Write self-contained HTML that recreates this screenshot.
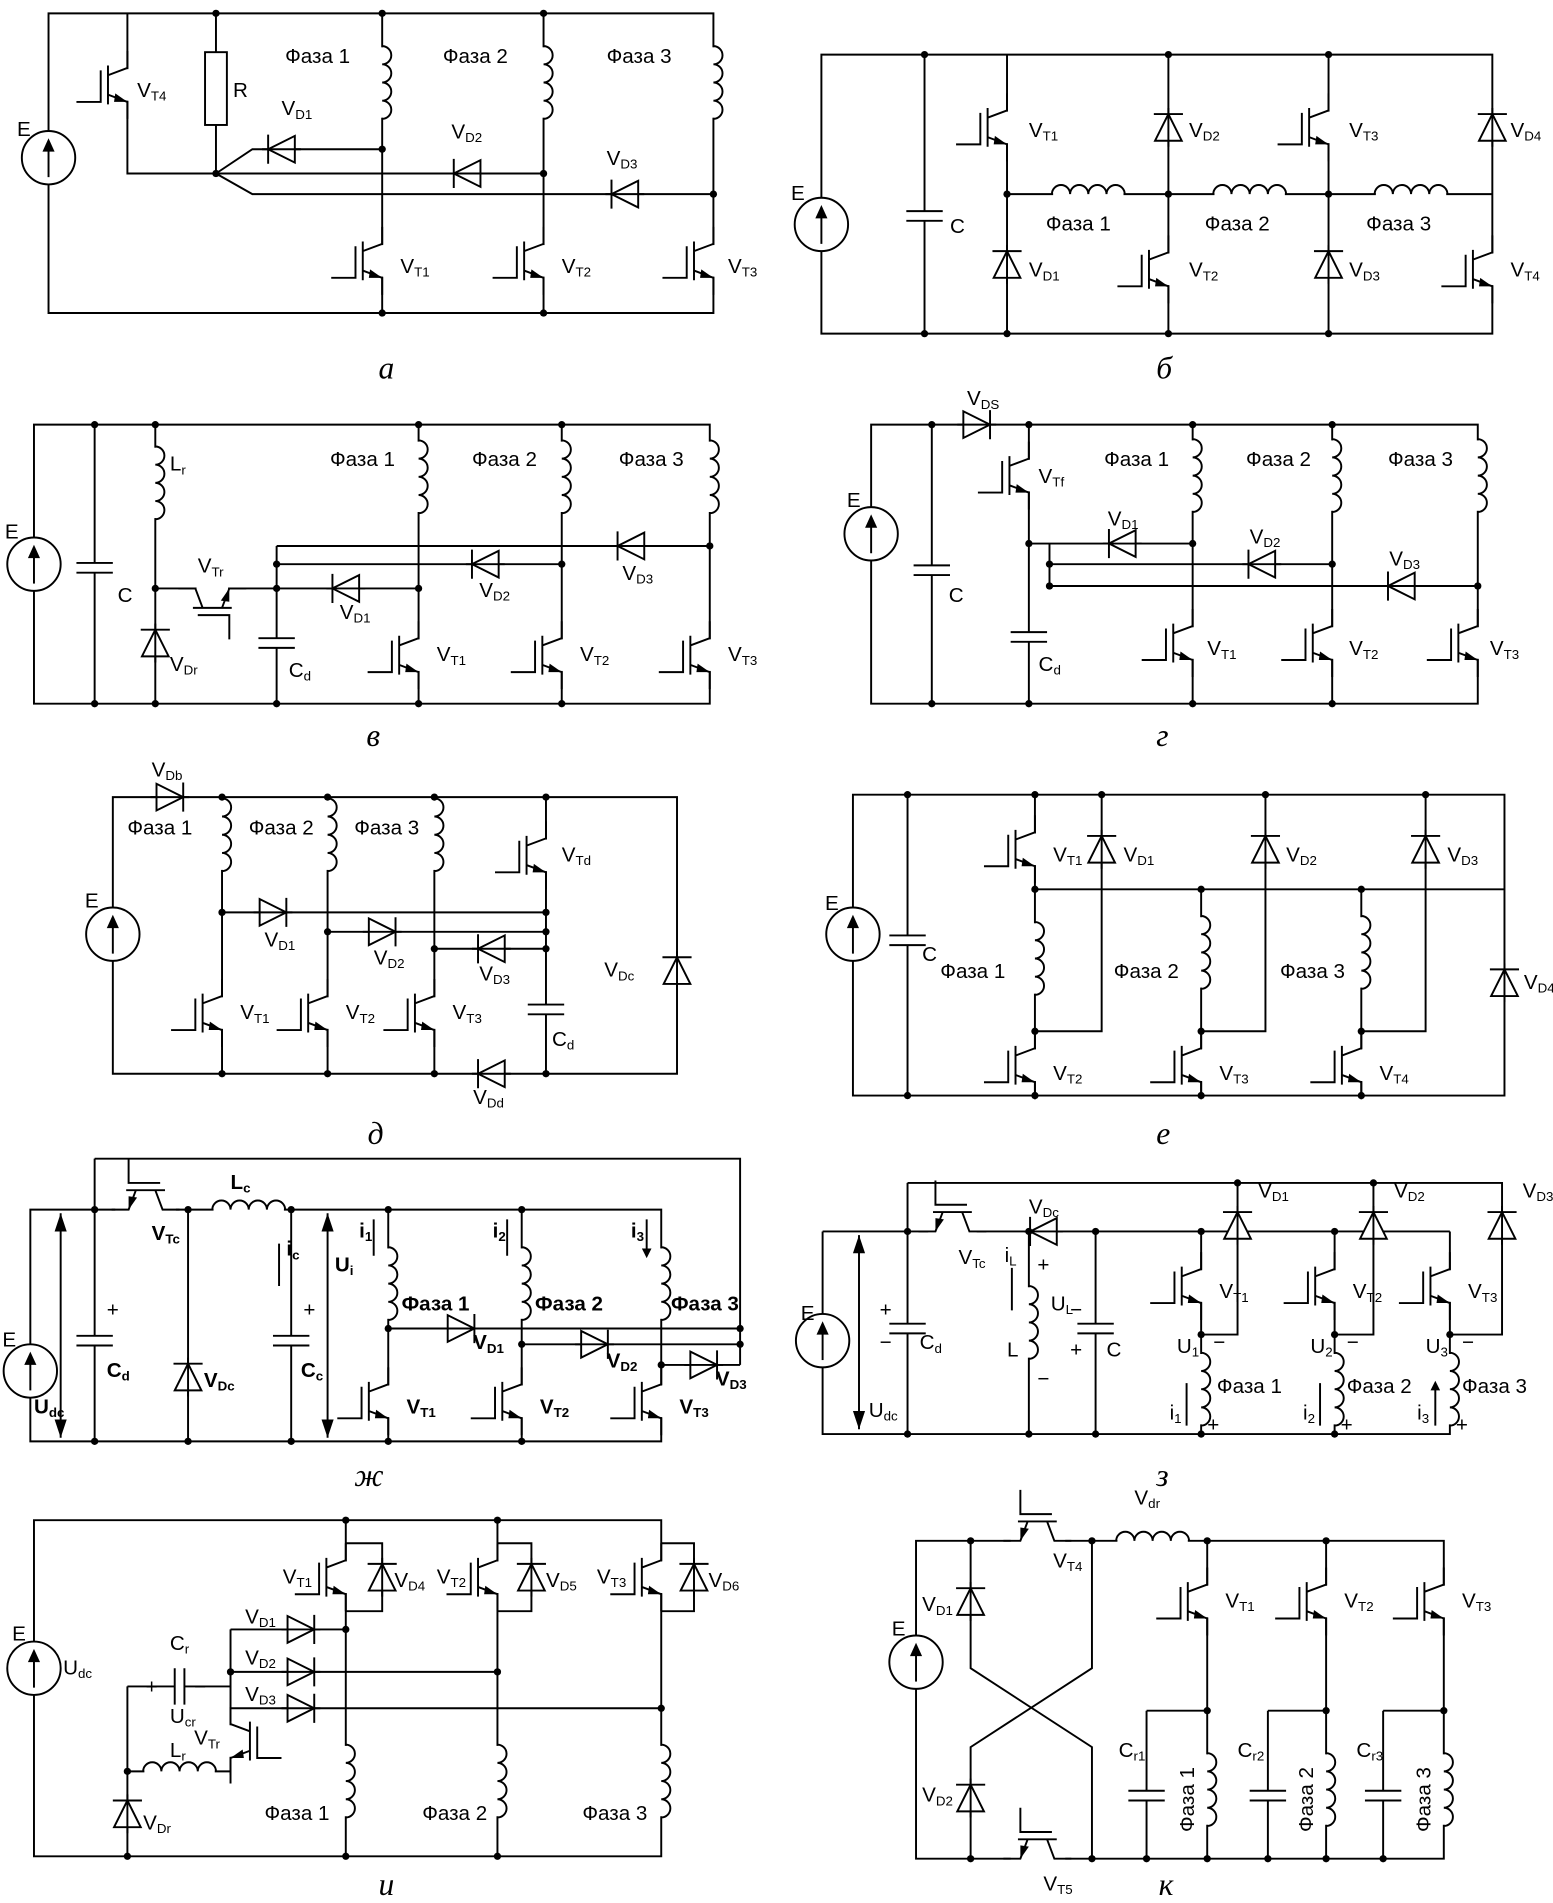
<!DOCTYPE html>
<html><head><meta charset="utf-8"><style>
html,body{margin:0;padding:0;background:#fff}
svg{display:block}
.w{fill:none;stroke:#000;stroke-width:1.6}
text{font-family:"Liberation Sans","DejaVu Sans",sans-serif;font-size:17px;fill:#000}
.s{font-size:11px}
.cap{font-family:"Liberation Serif",serif;font-style:italic;font-size:26px}
</style></head><body>
<svg width="1553" height="1903" viewBox="0 0 1280 1568.5" preserveAspectRatio="none" xmlns="http://www.w3.org/2000/svg">
<defs>
<g id="q"><rect x="-3" y="-13" width="6" height="26" fill="#fff"/><path class="w" d="M0,-28 V-14 L-16,-8 M-16,-16 V16 M-22,-12 V14 H-42 M-16,8 L0,14 V28"/><polygon points="0,14 -10,7 -11,14" fill="#000"/></g>
<g id="d"><polygon points="-11,-11 -11,11 11,0" fill="#fff" stroke="#000" stroke-width="1.6"/><path class="w" d="M-16,0 H16 M11,-12 V12"/></g>
<g id="L"><rect x="-2" y="-29" width="4" height="58" fill="#fff"/><path class="w" d="M0,-30 a7.5,7.5 0 0 1 0,15 a7.5,7.5 0 0 1 0,15 a7.5,7.5 0 0 1 0,15 a7.5,7.5 0 0 1 0,15"/></g>
<g id="c"><rect x="-16" y="-4" width="32" height="8" fill="#fff"/><path class="w" d="M-15,-4 H15 M-15,4 H15"/></g>
<g id="e"><circle cx="0" cy="0" r="22" fill="#fff" stroke="#000" stroke-width="1.6"/><path class="w" d="M0,16 V-8"/><polygon points="0,-16 -5,-5 5,-5" fill="#000"/></g>
<marker id="ah" markerWidth="8" markerHeight="8" refX="6" refY="4" orient="auto" markerUnits="userSpaceOnUse"><path d="M0,0 L8,4 L0,8 Z" fill="#000"/></marker>
</defs>

<!-- ===== а ===== -->
<path class="w" d="M40,11 H588 V258 H40 Z M105,11 V143 H178 M178,11 V143 M315,11 V258 M448,11 V258 M315,123 H208 L178,143 M448,143 H178 M588,160 H208 L178,143"/>
<rect x="169" y="43" width="18" height="60" fill="#fff" stroke="#000" stroke-width="1.6"/>
<use href="#e" x="40" y="130"/>
<use href="#q" x="105" y="70"/>
<use href="#L" x="315" y="68"/><use href="#L" x="448" y="68"/><use href="#L" x="588" y="68"/>
<use href="#d" transform="translate(232,123) rotate(180)"/><use href="#d" transform="translate(385,143) rotate(180)"/><use href="#d" transform="translate(515,160) rotate(180)"/>
<use href="#q" x="315" y="215"/><use href="#q" x="448" y="215"/><use href="#q" x="588" y="215"/>
<g><circle cx="178" cy="11" r="3"/><circle cx="315" cy="11" r="3"/><circle cx="448" cy="11" r="3"/><circle cx="178" cy="143" r="3"/><circle cx="315" cy="123" r="3"/><circle cx="448" cy="143" r="3"/><circle cx="588" cy="160" r="3"/><circle cx="315" cy="258" r="3"/><circle cx="448" cy="258" r="3"/></g>
<text x="14" y="112">E</text><text x="192" y="80">R</text>
<text x="113" y="80">V<tspan class="s" dy="3">T4</tspan></text>
<text x="232" y="95">V<tspan class="s" dy="3">D1</tspan></text>
<text x="372" y="114">V<tspan class="s" dy="3">D2</tspan></text>
<text x="500" y="136">V<tspan class="s" dy="3">D3</tspan></text>
<text x="235" y="52">Фаза 1</text><text x="365" y="52">Фаза 2</text><text x="500" y="52">Фаза 3</text>
<text x="330" y="225">V<tspan class="s" dy="3">T1</tspan></text><text x="463" y="225">V<tspan class="s" dy="3">T2</tspan></text><text x="600" y="225">V<tspan class="s" dy="3">T3</tspan></text>
<text class="cap" x="312" y="312">а</text>

<!-- ===== б ===== -->
<path class="w" d="M677,45 H1230 V275 H677 Z M762,45 V275 M830,45 V275 M963,45 V275 M1095,45 V275 M830,160 H1230"/>
<use href="#e" x="677" y="185"/><use href="#c" x="762" y="178"/>
<use href="#q" x="830" y="105"/><use href="#d" transform="translate(830,218) rotate(-90)"/>
<use href="#d" transform="translate(963,105) rotate(-90)"/><use href="#q" x="963" y="222"/>
<use href="#q" x="1095" y="105"/><use href="#d" transform="translate(1095,218) rotate(-90)"/>
<use href="#d" transform="translate(1230,105) rotate(-90)"/><use href="#q" x="1230" y="222"/>
<use href="#L" transform="translate(897,160) rotate(-90)"/><use href="#L" transform="translate(1030,160) rotate(-90)"/><use href="#L" transform="translate(1163,160) rotate(-90)"/>
<g><circle cx="762" cy="45" r="3"/><circle cx="762" cy="275" r="3"/><circle cx="830" cy="160" r="3"/><circle cx="830" cy="275" r="3"/><circle cx="963" cy="45" r="3"/><circle cx="963" cy="160" r="3"/><circle cx="963" cy="275" r="3"/><circle cx="1095" cy="45" r="3"/><circle cx="1095" cy="160" r="3"/><circle cx="1095" cy="275" r="3"/></g>
<text x="652" y="165">E</text><text x="783" y="192">C</text>
<text x="848" y="113">V<tspan class="s" dy="3">T1</tspan></text><text x="980" y="113">V<tspan class="s" dy="3">D2</tspan></text>
<text x="1112" y="113">V<tspan class="s" dy="3">T3</tspan></text><text x="1245" y="113">V<tspan class="s" dy="3">D4</tspan></text>
<text x="848" y="228">V<tspan class="s" dy="3">D1</tspan></text><text x="980" y="228">V<tspan class="s" dy="3">T2</tspan></text>
<text x="1112" y="228">V<tspan class="s" dy="3">D3</tspan></text><text x="1245" y="228">V<tspan class="s" dy="3">T4</tspan></text>
<text x="862" y="190">Фаза 1</text><text x="993" y="190">Фаза 2</text><text x="1126" y="190">Фаза 3</text>
<text class="cap" x="953" y="312">б</text>

<!-- ===== в ===== -->
<path class="w" d="M28,350 H585 V580 H28 Z M78,350 V580 M128,350 V580 M128,485 H228 M228,450 V580 M228,450 H585 M228,465 H463 M228,485 H345 M345,350 V580 M463,350 V580"/>
<use href="#e" x="28" y="465"/><use href="#c" x="78" y="468"/>
<use href="#L" x="128" y="398"/><use href="#d" transform="translate(128,530) rotate(-90)"/>
<use href="#q" transform="translate(175,485) rotate(-90)"/>
<use href="#c" x="228" y="530"/>
<use href="#d" transform="translate(520,450) rotate(180)"/><use href="#d" transform="translate(400,465) rotate(180)"/><use href="#d" transform="translate(285,485) rotate(180)"/>
<use href="#L" x="345" y="393"/><use href="#L" x="463" y="393"/><use href="#L" x="585" y="393"/>
<use href="#q" x="345" y="540"/><use href="#q" x="463" y="540"/><use href="#q" x="585" y="540"/>
<g><circle cx="78" cy="350" r="3"/><circle cx="128" cy="350" r="3"/><circle cx="345" cy="350" r="3"/><circle cx="463" cy="350" r="3"/><circle cx="128" cy="485" r="3"/><circle cx="228" cy="485" r="3"/><circle cx="228" cy="465" r="3"/><circle cx="345" cy="485" r="3"/><circle cx="463" cy="465" r="3"/><circle cx="585" cy="450" r="3"/><circle cx="78" cy="580" r="3"/><circle cx="128" cy="580" r="3"/><circle cx="228" cy="580" r="3"/><circle cx="345" cy="580" r="3"/><circle cx="463" cy="580" r="3"/></g>
<text x="4" y="444">E</text><text x="97" y="496">C</text>
<text x="140" y="388">L<tspan class="s" dy="3">r</tspan></text>
<text x="140" y="553">V<tspan class="s" dy="3">Dr</tspan></text>
<text x="163" y="472">V<tspan class="s" dy="3">Tr</tspan></text>
<text x="238" y="558">C<tspan class="s" dy="3">d</tspan></text>
<text x="280" y="510">V<tspan class="s" dy="3">D1</tspan></text><text x="395" y="492">V<tspan class="s" dy="3">D2</tspan></text><text x="513" y="478">V<tspan class="s" dy="3">D3</tspan></text>
<text x="272" y="384">Фаза 1</text><text x="389" y="384">Фаза 2</text><text x="510" y="384">Фаза 3</text>
<text x="360" y="545">V<tspan class="s" dy="3">T1</tspan></text><text x="478" y="545">V<tspan class="s" dy="3">T2</tspan></text><text x="600" y="545">V<tspan class="s" dy="3">T3</tspan></text>
<text class="cap" x="302" y="615">в</text>

<!-- ===== г ===== -->
<path class="w" d="M718,350 H1218 V580 H718 Z M768,350 V580 M848,350 V580 M848,448 H983 M865,448 V483 M865,465 H1098 M865,483 H1218 M983,350 V580 M1098,350 V580"/>
<use href="#d" x="805" y="350"/>
<use href="#e" x="718" y="440"/><use href="#c" x="768" y="470"/>
<use href="#q" x="848" y="392"/><use href="#c" x="848" y="525"/>
<use href="#d" transform="translate(925,448) rotate(180)"/><use href="#d" transform="translate(1040,465) rotate(180)"/><use href="#d" transform="translate(1155,483) rotate(180)"/>
<use href="#L" x="983" y="392"/><use href="#L" x="1098" y="392"/><use href="#L" x="1218" y="392"/>
<use href="#q" x="983" y="530"/><use href="#q" x="1098" y="530"/><use href="#q" x="1218" y="530"/>
<g><circle cx="768" cy="350" r="3"/><circle cx="848" cy="350" r="3"/><circle cx="983" cy="350" r="3"/><circle cx="1098" cy="350" r="3"/><circle cx="848" cy="448" r="3"/><circle cx="865" cy="465" r="3"/><circle cx="865" cy="483" r="3"/><circle cx="983" cy="448" r="3"/><circle cx="1098" cy="465" r="3"/><circle cx="1218" cy="483" r="3"/><circle cx="768" cy="580" r="3"/><circle cx="848" cy="580" r="3"/><circle cx="983" cy="580" r="3"/><circle cx="1098" cy="580" r="3"/></g>
<text x="698" y="418">E</text><text x="782" y="496">C</text>
<text x="797" y="334">V<tspan class="s" dy="3">DS</tspan></text>
<text x="856" y="398">V<tspan class="s" dy="3">Tf</tspan></text>
<text x="856" y="553">C<tspan class="s" dy="3">d</tspan></text>
<text x="913" y="433">V<tspan class="s" dy="3">D1</tspan></text><text x="1030" y="448">V<tspan class="s" dy="3">D2</tspan></text><text x="1145" y="466">V<tspan class="s" dy="3">D3</tspan></text>
<text x="910" y="384">Фаза 1</text><text x="1027" y="384">Фаза 2</text><text x="1144" y="384">Фаза 3</text>
<text x="995" y="540">V<tspan class="s" dy="3">T1</tspan></text><text x="1112" y="540">V<tspan class="s" dy="3">T2</tspan></text><text x="1228" y="540">V<tspan class="s" dy="3">T3</tspan></text>
<text class="cap" x="953" y="615">г</text>

<!-- ===== д ===== -->
<path class="w" d="M93,657 H558 V885 H93 Z M183,657 V885 M270,657 V885 M358,657 V885 M450,657 V885 M183,752 H450 M270,768 H450 M358,782 H450"/>
<use href="#d" x="140" y="657"/>
<use href="#e" x="93" y="770"/>
<use href="#L" x="183" y="688"/><use href="#L" x="270" y="688"/><use href="#L" x="358" y="688"/>
<use href="#q" x="450" y="705"/><use href="#c" x="450" y="832"/>
<use href="#d" transform="translate(558,800) rotate(-90)"/>
<use href="#d" x="225" y="752"/><use href="#d" x="315" y="768"/><use href="#d" transform="translate(405,782) rotate(180)"/>
<use href="#d" transform="translate(405,885) rotate(180)"/>
<use href="#q" x="183" y="835"/><use href="#q" x="270" y="835"/><use href="#q" x="358" y="835"/>
<g><circle cx="183" cy="657" r="3"/><circle cx="270" cy="657" r="3"/><circle cx="358" cy="657" r="3"/><circle cx="450" cy="657" r="3"/><circle cx="183" cy="752" r="3"/><circle cx="270" cy="768" r="3"/><circle cx="358" cy="782" r="3"/><circle cx="450" cy="752" r="3"/><circle cx="450" cy="768" r="3"/><circle cx="450" cy="782" r="3"/><circle cx="183" cy="885" r="3"/><circle cx="270" cy="885" r="3"/><circle cx="358" cy="885" r="3"/><circle cx="450" cy="885" r="3"/></g>
<text x="70" y="748">E</text>
<text x="125" y="640">V<tspan class="s" dy="3">Db</tspan></text>
<text x="105" y="688">Фаза 1</text><text x="205" y="688">Фаза 2</text><text x="292" y="688">Фаза 3</text>
<text x="463" y="710">V<tspan class="s" dy="3">Td</tspan></text>
<text x="498" y="805">V<tspan class="s" dy="3">Dc</tspan></text>
<text x="218" y="780">V<tspan class="s" dy="3">D1</tspan></text><text x="308" y="795">V<tspan class="s" dy="3">D2</tspan></text><text x="395" y="808">V<tspan class="s" dy="3">D3</tspan></text>
<text x="455" y="862">C<tspan class="s" dy="3">d</tspan></text>
<text x="390" y="910">V<tspan class="s" dy="3">Dd</tspan></text>
<text x="198" y="840">V<tspan class="s" dy="3">T1</tspan></text><text x="285" y="840">V<tspan class="s" dy="3">T2</tspan></text><text x="373" y="840">V<tspan class="s" dy="3">T3</tspan></text>
<text class="cap" x="303" y="943">д</text>

<!-- ===== е ===== -->
<path class="w" d="M703,655 H1240 V903 H703 Z M748,655 V903 M853,655 V903 M908,655 V850 H853 M853,733 H1240 M990,733 V903 M1043,655 V850 H990 M1122,733 V903 M1175,655 V850 H1122"/>
<use href="#e" x="703" y="770"/><use href="#c" x="748" y="775"/>
<use href="#q" x="853" y="700"/><use href="#L" x="853" y="790"/><use href="#q" x="853" y="878"/>
<use href="#d" transform="translate(908,700) rotate(-90)"/><use href="#d" transform="translate(1043,700) rotate(-90)"/><use href="#d" transform="translate(1175,700) rotate(-90)"/>
<use href="#L" x="990" y="785"/><use href="#q" x="990" y="878"/>
<use href="#L" x="1122" y="785"/><use href="#q" x="1122" y="878"/>
<use href="#d" transform="translate(1240,810) rotate(-90)"/>
<g><circle cx="748" cy="655" r="3"/><circle cx="853" cy="655" r="3"/><circle cx="908" cy="655" r="3"/><circle cx="1043" cy="655" r="3"/><circle cx="1175" cy="655" r="3"/><circle cx="853" cy="733" r="3"/><circle cx="990" cy="733" r="3"/><circle cx="1122" cy="733" r="3"/><circle cx="853" cy="850" r="3"/><circle cx="990" cy="850" r="3"/><circle cx="1122" cy="850" r="3"/><circle cx="748" cy="903" r="3"/><circle cx="853" cy="903" r="3"/><circle cx="990" cy="903" r="3"/><circle cx="1122" cy="903" r="3"/></g>
<text x="680" y="750">E</text><text x="760" y="792">C</text>
<text x="868" y="710">V<tspan class="s" dy="3">T1</tspan></text><text x="926" y="710">V<tspan class="s" dy="3">D1</tspan></text>
<text x="1060" y="710">V<tspan class="s" dy="3">D2</tspan></text><text x="1193" y="710">V<tspan class="s" dy="3">D3</tspan></text>
<text x="1256" y="815">V<tspan class="s" dy="3">D4</tspan></text>
<text x="775" y="806">Фаза 1</text><text x="918" y="806">Фаза 2</text><text x="1055" y="806">Фаза 3</text>
<text x="868" y="890">V<tspan class="s" dy="3">T2</tspan></text><text x="1005" y="890">V<tspan class="s" dy="3">T3</tspan></text><text x="1137" y="890">V<tspan class="s" dy="3">T4</tspan></text>
<text class="cap" x="953" y="943">е</text>

<!-- ===== ж ===== -->
<path class="w" d="M78,955 H610 V1125 M25,997 H545 V1188 H25 Z M78,955 V1188 M155,997 V1188 M240,997 V1188 M320,997 V1188 M430,997 V1188 M320,1095 H610 M430,1108 H610 M545,1125 H610"/>
<rect x="95" y="990" width="50" height="14" fill="#fff"/>
<use href="#q" transform="translate(120,997) rotate(90)"/>
<use href="#L" transform="translate(205,997) rotate(-90)"/>
<use href="#e" x="25" y="1130"/>
<use href="#c" x="78" y="1105"/><use href="#d" transform="translate(155,1135) rotate(-90)"/><use href="#c" x="240" y="1105"/>
<use href="#L" x="320" y="1058"/><use href="#L" x="430" y="1058"/><use href="#L" x="545" y="1058"/>
<use href="#d" x="380" y="1095"/><use href="#d" x="490" y="1108"/><use href="#d" x="580" y="1125"/>
<use href="#q" x="320" y="1155"/><use href="#q" x="430" y="1155"/><use href="#q" x="545" y="1155"/>
<path class="w" d="M50,1000 V1185 M270,1000 V1185" />
<polygon points="50,1000 45,1015 55,1015" /><polygon points="50,1185 45,1170 55,1170"/>
<polygon points="270,1000 265,1015 275,1015" /><polygon points="270,1185 265,1170 275,1170"/>
<path class="w" d="M230,1025 V1060 M308,1005 V1035 M418,1005 V1035 M533,1005 V1035" marker-end="url(#ah)"/>
<g><circle cx="78" cy="997" r="3"/><circle cx="155" cy="997" r="3"/><circle cx="240" cy="997" r="3"/><circle cx="320" cy="997" r="3"/><circle cx="430" cy="997" r="3"/><circle cx="320" cy="1095" r="3"/><circle cx="430" cy="1108" r="3"/><circle cx="545" cy="1125" r="3"/><circle cx="610" cy="1095" r="3"/><circle cx="610" cy="1108" r="3"/><circle cx="78" cy="1188" r="3"/><circle cx="155" cy="1188" r="3"/><circle cx="240" cy="1188" r="3"/><circle cx="320" cy="1188" r="3"/><circle cx="430" cy="1188" r="3"/></g>
<text x="2" y="1110">E</text>
<text x="28" y="1165" font-weight="bold">U<tspan class="s" dy="3">dc</tspan></text>
<text x="88" y="1085">+</text><text x="88" y="1135" font-weight="bold">C<tspan class="s" dy="3">d</tspan></text>
<text x="125" y="1022" font-weight="bold">V<tspan class="s" dy="3">Tc</tspan></text>
<text x="190" y="980" font-weight="bold">L<tspan class="s" dy="3">c</tspan></text>
<text x="168" y="1143" font-weight="bold">V<tspan class="s" dy="3">Dc</tspan></text>
<text x="250" y="1085">+</text><text x="248" y="1135" font-weight="bold">C<tspan class="s" dy="3">c</tspan></text>
<text x="236" y="1035" font-weight="bold">i<tspan class="s" dy="3">c</tspan></text>
<text x="276" y="1048" font-weight="bold">U<tspan class="s" dy="3">i</tspan></text>
<text x="296" y="1020" font-weight="bold">i<tspan class="s" dy="3">1</tspan></text><text x="406" y="1020" font-weight="bold">i<tspan class="s" dy="3">2</tspan></text><text x="520" y="1020" font-weight="bold">i<tspan class="s" dy="3">3</tspan></text>
<text x="331" y="1080" font-weight="bold">Фаза 1</text><text x="441" y="1080" font-weight="bold">Фаза 2</text><text x="553" y="1080" font-weight="bold">Фаза 3</text>
<text x="390" y="1112" font-weight="bold">V<tspan class="s" dy="3">D1</tspan></text><text x="500" y="1127" font-weight="bold">V<tspan class="s" dy="3">D2</tspan></text><text x="590" y="1142" font-weight="bold">V<tspan class="s" dy="3">D3</tspan></text>
<text x="335" y="1165" font-weight="bold">V<tspan class="s" dy="3">T1</tspan></text><text x="445" y="1165" font-weight="bold">V<tspan class="s" dy="3">T2</tspan></text><text x="560" y="1165" font-weight="bold">V<tspan class="s" dy="3">T3</tspan></text>
<text class="cap" x="292" y="1225">ж</text>

<!-- ===== з ===== -->
<path class="w" d="M748,975 H1238 V1100 H1195 M1020,975 V1100 H990 M1132,975 V1100 H1100 M678,1015 H1195 M678,1015 V1182 H1195 V1015 M748,975 V1182 M848,1015 V1182 M903,1015 V1182 M990,1015 V1182 M1100,1015 V1182"/>
<rect x="765" y="1008" width="40" height="14" fill="#fff"/>
<use href="#q" transform="translate(785,1015) rotate(90)"/>
<use href="#d" transform="translate(860,1015) rotate(180)"/>
<use href="#d" transform="translate(1020,1010) rotate(-90)"/><use href="#d" transform="translate(1132,1010) rotate(-90)"/><use href="#d" transform="translate(1238,1010) rotate(-90)"/>
<use href="#e" x="678" y="1105"/>
<use href="#c" x="748" y="1095"/><use href="#L" x="848" y="1090"/><use href="#c" x="903" y="1095"/>
<use href="#q" x="990" y="1060"/><use href="#q" x="1100" y="1060"/><use href="#q" x="1195" y="1060"/>
<use href="#L" x="990" y="1145"/><use href="#L" x="1100" y="1145"/><use href="#L" x="1195" y="1145"/>
<path class="w" d="M708,1018 V1178"/><polygon points="708,1018 703,1033 713,1033"/><polygon points="708,1178 703,1163 713,1163"/>
<path class="w" d="M834,1045 V1080 M978,1175 V1140 M1088,1175 V1140 M1183,1175 V1140" marker-end="url(#ah)"/>
<g><circle cx="1020" cy="975" r="3"/><circle cx="1132" cy="975" r="3"/><circle cx="748" cy="1015" r="3"/><circle cx="848" cy="1015" r="3"/><circle cx="903" cy="1015" r="3"/><circle cx="990" cy="1015" r="3"/><circle cx="1100" cy="1015" r="3"/><circle cx="990" cy="1100" r="3"/><circle cx="1100" cy="1100" r="3"/><circle cx="1195" cy="1100" r="3"/><circle cx="748" cy="1182" r="3"/><circle cx="848" cy="1182" r="3"/><circle cx="903" cy="1182" r="3"/><circle cx="990" cy="1182" r="3"/><circle cx="1100" cy="1182" r="3"/></g>
<text x="660" y="1088">E</text>
<text x="716" y="1168">U<tspan class="s" dy="3">dc</tspan></text>
<text x="725" y="1085">+</text><text x="725" y="1112">−</text><text x="758" y="1112">C<tspan class="s" dy="3">d</tspan></text>
<text x="790" y="1042">V<tspan class="s" dy="3">Tc</tspan></text>
<text x="848" y="1000">V<tspan class="s" dy="3">Dc</tspan></text>
<text x="828" y="1040">i<tspan class="s" dy="3">L</tspan></text><text x="855" y="1048">+</text>
<text x="866" y="1080">U<tspan class="s" dy="3">L</tspan></text><text x="830" y="1118">L</text><text x="855" y="1142">−</text>
<text x="882" y="1085">−</text><text x="882" y="1118">+</text><text x="912" y="1118">C</text>
<text x="1005" y="1070">V<tspan class="s" dy="3">T1</tspan></text><text x="1115" y="1070">V<tspan class="s" dy="3">T2</tspan></text><text x="1210" y="1070">V<tspan class="s" dy="3">T3</tspan></text>
<text x="1037" y="987">V<tspan class="s" dy="3">D1</tspan></text><text x="1149" y="987">V<tspan class="s" dy="3">D2</tspan></text><text x="1255" y="987">V<tspan class="s" dy="3">D3</tspan></text>
<text x="970" y="1115">U<tspan class="s" dy="3">1</tspan></text><text x="1000" y="1112">−</text>
<text x="1080" y="1115">U<tspan class="s" dy="3">2</tspan></text><text x="1110" y="1112">−</text>
<text x="1175" y="1115">U<tspan class="s" dy="3">3</tspan></text><text x="1205" y="1112">−</text>
<text x="1003" y="1148">Фаза 1</text><text x="1110" y="1148">Фаза 2</text><text x="1205" y="1148">Фаза 3</text>
<text x="964" y="1170">i<tspan class="s" dy="3">1</tspan></text><text x="1074" y="1170">i<tspan class="s" dy="3">2</tspan></text><text x="1168" y="1170">i<tspan class="s" dy="3">3</tspan></text>
<text x="995" y="1180">+</text><text x="1105" y="1180">+</text><text x="1200" y="1180">+</text>
<text class="cap" x="953" y="1225">з</text>

<!-- ===== и ===== -->
<path class="w" d="M28,1253 H545 V1530 H28 Z M285,1253 V1530 M410,1253 V1530 M285,1272 H315 V1328 H285 M410,1272 H438 V1328 H410 M545,1272 H572 V1328 H545 M190,1343 H285 M190,1378 H410 M190,1408 H545 M190,1343 V1470 M105,1390 H190 M105,1390 V1530 M105,1460 H190"/>
<use href="#e" x="28" y="1375"/>
<use href="#q" x="285" y="1300"/><use href="#q" x="410" y="1300"/><use href="#q" x="545" y="1300"/>
<use href="#d" transform="translate(315,1300) rotate(-90)"/><use href="#d" transform="translate(438,1300) rotate(-90)"/><use href="#d" transform="translate(572,1300) rotate(-90)"/>
<use href="#d" x="248" y="1343"/><use href="#d" x="248" y="1378"/><use href="#d" x="248" y="1408"/>
<use href="#c" transform="translate(148,1390) rotate(90)"/>
<use href="#L" transform="translate(148,1460) rotate(-90)"/>
<use href="#q" transform="translate(190,1435) scale(-1,1)"/>
<use href="#d" transform="translate(105,1495) rotate(-90)"/>
<use href="#L" x="285" y="1468"/><use href="#L" x="410" y="1468"/><use href="#L" x="545" y="1468"/>
<g><circle cx="285" cy="1253" r="3"/><circle cx="410" cy="1253" r="3"/><circle cx="285" cy="1343" r="3"/><circle cx="410" cy="1378" r="3"/><circle cx="545" cy="1408" r="3"/><circle cx="190" cy="1378" r="3"/><circle cx="105" cy="1460" r="3"/><circle cx="105" cy="1530" r="3"/><circle cx="285" cy="1530" r="3"/><circle cx="410" cy="1530" r="3"/></g>
<text x="10" y="1352">E</text><text x="52" y="1380">U<tspan class="s" dy="3">dc</tspan></text>
<text x="233" y="1305">V<tspan class="s" dy="3">T1</tspan></text><text x="325" y="1308">V<tspan class="s" dy="3">D4</tspan></text>
<text x="360" y="1305">V<tspan class="s" dy="3">T2</tspan></text><text x="450" y="1308">V<tspan class="s" dy="3">D5</tspan></text>
<text x="492" y="1305">V<tspan class="s" dy="3">T3</tspan></text><text x="584" y="1308">V<tspan class="s" dy="3">D6</tspan></text>
<text x="202" y="1338">V<tspan class="s" dy="3">D1</tspan></text><text x="202" y="1372">V<tspan class="s" dy="3">D2</tspan></text><text x="202" y="1402">V<tspan class="s" dy="3">D3</tspan></text>
<text x="140" y="1360">C<tspan class="s" dy="3">r</tspan></text>
<text x="120" y="1396">+</text><text x="160" y="1396">−</text>
<text x="140" y="1420">U<tspan class="s" dy="3">cr</tspan></text>
<text x="140" y="1448">L<tspan class="s" dy="3">r</tspan></text>
<text x="160" y="1438">V<tspan class="s" dy="3">Tr</tspan></text>
<text x="118" y="1508">V<tspan class="s" dy="3">Dr</tspan></text>
<text x="218" y="1500">Фаза 1</text><text x="348" y="1500">Фаза 2</text><text x="480" y="1500">Фаза 3</text>
<text class="cap" x="312" y="1562">и</text>

<!-- ===== к ===== -->
<path class="w" d="M755,1270 H1190 V1532 H755 Z M800,1270 V1375 L900,1440 V1532 M900,1270 V1375 L800,1440 V1532 M995,1270 V1532 M1093,1270 V1532 M945,1410 H995 M945,1410 V1532 M1045,1410 H1093 M1045,1410 V1532 M1140,1410 H1190 M1140,1410 V1532"/>
<rect x="833" y="1262" width="45" height="14" fill="#fff"/><rect x="833" y="1525" width="45" height="14" fill="#fff"/>
<use href="#q" transform="translate(855,1270) rotate(90)"/>
<use href="#q" transform="translate(855,1532) rotate(90)"/>
<use href="#L" transform="translate(950,1270) rotate(-90)"/>
<use href="#e" x="755" y="1370"/>
<use href="#d" transform="translate(800,1320) rotate(-90)"/><use href="#d" transform="translate(800,1482) rotate(-90)"/>
<use href="#q" x="995" y="1320"/><use href="#q" x="1093" y="1320"/><use href="#q" x="1190" y="1320"/>
<use href="#L" x="995" y="1475"/><use href="#L" x="1093" y="1475"/><use href="#L" x="1190" y="1475"/>
<use href="#c" x="945" y="1480"/><use href="#c" x="1045" y="1480"/><use href="#c" x="1140" y="1480"/>
<g><circle cx="800" cy="1270" r="3"/><circle cx="900" cy="1270" r="3"/><circle cx="995" cy="1270" r="3"/><circle cx="1093" cy="1270" r="3"/><circle cx="995" cy="1410" r="3"/><circle cx="1093" cy="1410" r="3"/><circle cx="1190" cy="1410" r="3"/><circle cx="800" cy="1532" r="3"/><circle cx="900" cy="1532" r="3"/><circle cx="945" cy="1532" r="3"/><circle cx="995" cy="1532" r="3"/><circle cx="1045" cy="1532" r="3"/><circle cx="1093" cy="1532" r="3"/><circle cx="1140" cy="1532" r="3"/></g>
<text x="735" y="1348">E</text>
<text x="868" y="1292">V<tspan class="s" dy="3">T4</tspan></text>
<text x="935" y="1240">V<tspan class="s" dy="3">dr</tspan></text>
<text x="760" y="1328">V<tspan class="s" dy="3">D1</tspan></text><text x="760" y="1485">V<tspan class="s" dy="3">D2</tspan></text>
<text x="860" y="1558">V<tspan class="s" dy="3">T5</tspan></text>
<text x="1010" y="1325">V<tspan class="s" dy="3">T1</tspan></text><text x="1108" y="1325">V<tspan class="s" dy="3">T2</tspan></text><text x="1205" y="1325">V<tspan class="s" dy="3">T3</tspan></text>
<text x="922" y="1448">C<tspan class="s" dy="3">r1</tspan></text><text x="1020" y="1448">C<tspan class="s" dy="3">r2</tspan></text><text x="1118" y="1448">C<tspan class="s" dy="3">r3</tspan></text>
<text transform="translate(984,1510) rotate(-90)">Фаза 1</text>
<text transform="translate(1082,1510) rotate(-90)">Фаза 2</text>
<text transform="translate(1179,1510) rotate(-90)">Фаза 3</text>
<text class="cap" x="955" y="1562">к</text>
</svg>
</body></html>
